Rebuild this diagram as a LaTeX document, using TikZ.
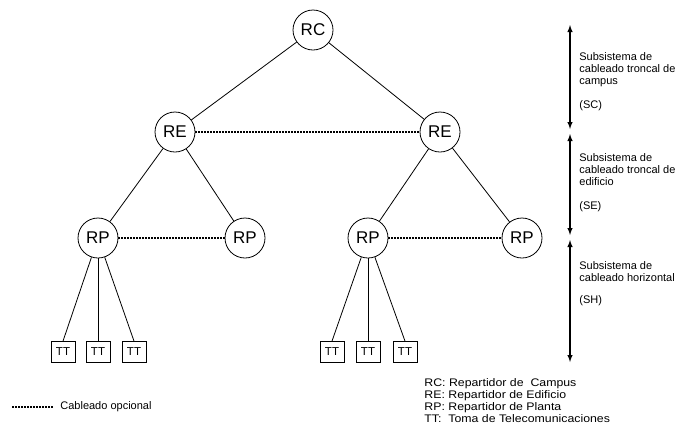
\documentclass[tikz,border=0pt]{standalone}
\usepackage{fontspec}
\setmainfont{Liberation Sans}
\newfontfamily\anchafont[FakeStretch=1.12]{Liberation Sans}
\usetikzlibrary{arrows}
\usetikzlibrary{positioning}

\begin{document}
\begin{tikzpicture}[
  x = 1pt, y = -1pt,
  > = latex,
  line width = 0.8pt,
  rep/.style = {draw,circle,minimum size=40pt,inner sep=0pt,font=\fontsize{17}{17}\selectfont},
  toma/.style = {draw,minimum width=24pt,minimum height=21pt,inner sep=0pt,font=\fontsize{11.5}{11.5}\selectfont},
  opcional/.style = {dash pattern=on 2pt off 1pt,line width=1.4pt},
  nota/.style = {align=left,inner sep=0pt,font=\fontsize{11}{12}\selectfont},
  tramo/.style = {<->,line width=1.4pt}
  ]
  \useasboundingbox (0,0) rectangle (679,437);

  \node[rep] (RC) at (313,30) {RC};
  \node[rep] (@reL) at (175,132) {RE};
  \node[rep] (@reR) at (440,132) {RE};
  \node[rep] (@rp1) at (98,238) {RP};
  \node[rep] (@rp2) at (245,238) {RP};
  \node[rep] (@rp3) at (368,238) {RP};
  \node[rep] (@rp4) at (522,238) {RP};

  \node[toma] (@tt1) at (63,352) {TT};
  \node[toma] (@tt2) at (98,352) {TT};
  \node[toma] (@tt3) at (134,352) {TT};
  \node[toma] (@tt4) at (332,352) {TT};
  \node[toma] (@tt5) at (368,352) {TT};
  \node[toma] (@tt6) at (405,352) {TT};

  \draw (RC) to (@reL);
  \draw (RC) to (@reR);
  \draw (@reL) to (@rp1);
  \draw (@reL) to (@rp2);
  \draw (@reR) to (@rp3);
  \draw (@reR) to (@rp4);
  \draw (@rp1) to (@tt1.north);
  \draw (@rp1) to (@tt2.north);
  \draw (@rp1) to (@tt3.north);
  \draw (@rp3) to (@tt4.north);
  \draw (@rp3) to (@tt5.north);
  \draw (@rp3) to (@tt6.north);

  \draw[opcional] (@reL) to (@reR);
  \draw[opcional] (@rp1) to (@rp2);
  \draw[opcional] (@rp3) to (@rp4);

  % subsistemas
  \coordinate (@s0) at (570,25);
  \coordinate (@s1) at (570,129);
  \coordinate (@s2) at (570,134);
  \coordinate (@s3) at (570,235);
  \coordinate (@s4) at (570,240);
  \coordinate (@s5) at (570,362);
  \draw[tramo] (@s0) to (@s1);
  \draw[tramo] (@s2) to (@s3);
  \draw[tramo] (@s4) to (@s5);

  \node[nota,anchor=north west] (sc) at (579,52) {Subsistema de\\cableado troncal de\\campus\\[12pt](SC)};
  \node[nota,anchor=north west] (se) at (579,153) {Subsistema de\\cableado troncal de\\edificio\\[12pt](SE)};
  \node[nota,anchor=north west] (sh) at (579,261) {Subsistema de\\cableado horizontal\\[10pt](SH)};

  % leyenda
  \node[nota,anchor=north west,font=\anchafont\fontsize{11}{12}\selectfont] (leyenda) at (424,378) {RC: Repartidor de \ Campus\\RE: Repartidor de Edificio\\RP: Repartidor de Planta\\TT: \ Toma de Telecomunicaciones};
  \coordinate (@l0) at (12,407);
  \coordinate (@l1) at (53,407);
  \node[nota,anchor=west] (opc) at (60,407) {Cableado opcional};
  \draw[opcional] (@l0) to (@l1);
\end{tikzpicture}
\end{document}
